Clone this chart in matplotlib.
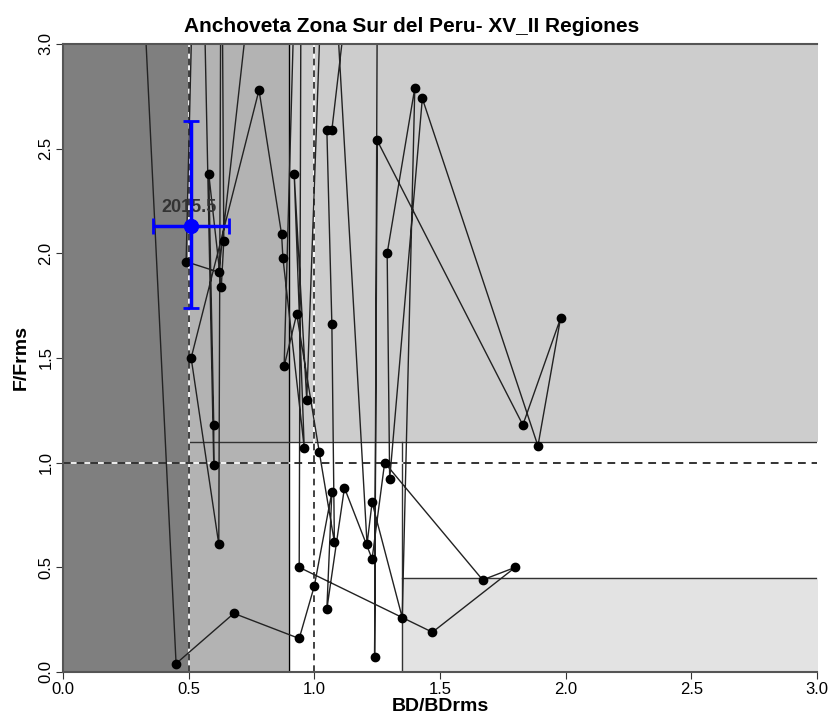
import matplotlib
matplotlib.use("Agg")
import matplotlib.pyplot as plt

plt.rcParams["font.family"] = ["Liberation Sans", "DejaVu Sans"]

# Trajectory BD/BDrms vs F/Frms (points above 3 leave the plot area)
bd = [0.23, 0.45, 0.68, 0.94, 1.00, 1.07, 1.05, 1.12, 1.23, 1.28,
      1.67, 1.80, 1.47, 0.94, 0.95, 0.88, 0.93, 1.02, 1.08, 1.07,
      1.05, 1.07, 1.255, 1.24, 1.25, 1.83, 1.98, 1.89, 1.43, 1.30,
      1.29, 1.40, 1.35, 1.23, 1.21, 1.05, 0.97, 0.92, 0.96, 0.875,
      0.87, 0.78, 0.51, 0.62, 0.63, 0.64, 0.63, 0.58, 0.60, 0.60,
      0.54, 0.49, 0.62, 0.86]
f = [5.5, 0.04, 0.28, 0.16, 0.41, 0.86, 0.30, 0.88, 0.54, 1.00,
     0.44, 0.50, 0.19, 0.50, 4.5, 1.46, 1.71, 1.05, 0.62, 1.66,
     2.59, 2.59, 4.5, 0.07, 2.54, 1.18, 1.69, 1.08, 2.74, 0.92,
     2.00, 2.79, 0.26, 0.81, 0.61, 4.0, 1.30, 2.38, 1.07, 1.98,
     2.09, 2.78, 1.50, 0.61, 4.0, 2.06, 1.84, 2.38, 1.18, 0.99,
     4.5, 1.96, 1.91, 4.5]

# last year with uncertainty
last_label = "2015.5"
last_bd = 0.51
last_f = 2.13
bd_lo, bd_hi = 0.36, 0.66
f_lo, f_hi = 1.74, 2.63

fig = plt.figure(figsize=(8.31, 7.26), dpi=100)
ax = fig.add_axes([0.0758, 0.0744, 0.9072, 0.865])

# zones
ax.axvspan(0, 0.5, color="#7f7f7f", zorder=0)
ax.fill_between([0.5, 0.9], 0, 3, color="#b3b3b3", zorder=0)
ax.fill_between([0.9, 3.0], 1.1, 3, color="#cdcdcd", zorder=0)
ax.fill_between([0.9, 3.0], 0, 1.1, color="white", zorder=0)
ax.fill_between([1.35, 3.0], 0, 0.45, color="#e3e3e3", zorder=0)
ax.plot([0.9, 0.9], [0, 3], color="black", lw=1, zorder=1)
ax.plot([0.5, 3.0], [1.1, 1.1], color="#333333", lw=1, zorder=1)
ax.plot([1.35, 1.35], [0, 1.1], color="#333333", lw=1, zorder=1)
ax.plot([1.35, 3.0], [0.45, 0.45], color="#333333", lw=1, zorder=1)

# reference lines
for xv in [0.5, 1.0]:
    ax.axvline(xv, color="white", lw=1.2, zorder=1)
    ax.axvline(xv, color="#222222", lw=1.2, ls=(0, (4, 3)), zorder=1)
ax.axhline(1.0, color="white", lw=1.2, zorder=1)
ax.axhline(1.0, color="#333333", lw=1.4, ls=(0, (4, 3)), zorder=1)

ax.plot(bd, f, color="#222222", lw=1, marker="o", ms=6, mfc="black", mec="black", zorder=2)

ax.errorbar(last_bd, last_f, xerr=[[last_bd - bd_lo], [bd_hi - last_bd]],
            yerr=[[last_f - f_lo], [f_hi - last_f]], fmt="o", color="blue",
            ms=10, lw=2.5, capsize=6, capthick=2, zorder=3)
ax.text(last_bd - 0.01, 2.22, last_label, color="#333333", fontsize=13, fontweight="bold",
        ha="center", va="center", zorder=2.5)

ax.set_xlim(0, 3)
ax.set_ylim(0, 3)
ax.set_xticks([0, 0.5, 1.0, 1.5, 2.0, 2.5, 3.0])
ax.set_yticks([0, 0.5, 1.0, 1.5, 2.0, 2.5, 3.0])
ax.set_xticklabels(["0.0", "0.5", "1.0", "1.5", "2.0", "2.5", "3.0"], fontsize=12)
ax.set_yticklabels(["0.0", "0.5", "1.0", "1.5", "2.0", "2.5", "3.0"], fontsize=12,
                   rotation=90, va="center")
ax.tick_params(direction="out", length=5, color="#333333", pad=2)
for side in ["top", "left", "bottom"]:
    ax.spines[side].set_color("#555555")
    ax.spines[side].set_linewidth(1.5)
ax.spines["right"].set_visible(False)

ax.set_xlabel("BD/BDrms", fontsize=14, fontweight="bold", labelpad=1)
ax.set_ylabel("F/Frms", fontsize=14, fontweight="bold", labelpad=6)
fig.text(412 / 831, 1 - 27 / 726, "Anchoveta Zona Sur del Peru- XV_II Regiones",
         fontsize=15, fontweight="bold", ha="center", va="center")

fig.savefig("out.png", dpi=100)
